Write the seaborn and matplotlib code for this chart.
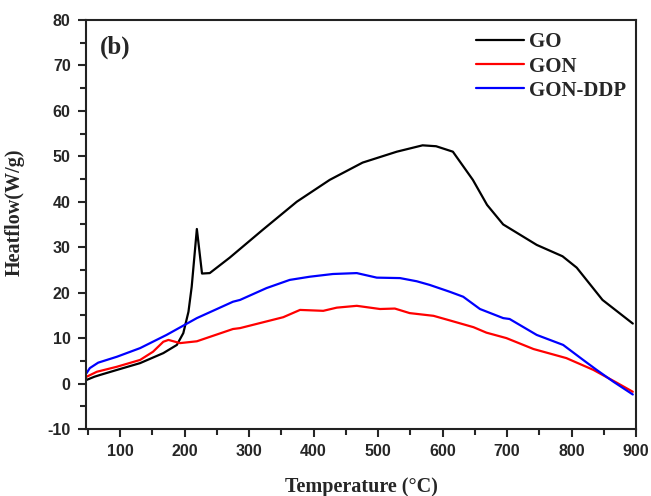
import numpy as np
import pandas as pd
import matplotlib
matplotlib.use("Agg")
import matplotlib.pyplot as plt
import seaborn as sns
from matplotlib.ticker import MultipleLocator

# Data (Temperature °C, Heatflow W/g)
go_temp = [48, 60, 69, 95, 131, 167, 188, 198, 206, 211, 219, 227, 239,
           270, 321, 374, 425, 476, 529, 569, 590, 616, 647, 669, 694,
           746, 786, 808, 848, 895]
go_flow = [0.8, 1.5, 1.9, 3.0, 4.5, 6.7, 8.5, 11.1, 15.8, 21.3, 34.0, 24.2, 24.3,
           27.7, 33.8, 40.0, 44.8, 48.6, 51.0, 52.4, 52.2, 51.0, 44.8, 39.3, 35.0,
           30.5, 28.0, 25.5, 18.4, 13.2]

gon_temp = [48, 64, 95, 131, 151, 167, 175, 193, 219, 275, 286, 353, 379,
            415, 436, 467, 503, 526, 549, 586, 611, 648, 668, 699, 741,
            792, 834, 870, 895]
gon_flow = [1.5, 2.6, 3.7, 5.2, 7.0, 9.2, 9.6, 8.9, 9.3, 12.0, 12.2, 14.6, 16.2,
            16.0, 16.7, 17.1, 16.4, 16.5, 15.5, 14.9, 13.9, 12.4, 11.2, 10.0, 7.6,
            5.6, 3.0, 0.2, -1.8]

ddp_temp = [48, 53, 66, 95, 131, 172, 219, 275, 286, 327, 363, 394, 430,
            467, 498, 534, 560, 580, 611, 632, 658, 694, 704, 746, 787,
            818, 839, 865, 895]
ddp_flow = [2.3, 3.4, 4.6, 5.9, 7.8, 10.7, 14.4, 18.0, 18.4, 21.0, 22.8, 23.5, 24.1,
            24.3, 23.3, 23.2, 22.5, 21.7, 20.2, 19.1, 16.4, 14.4, 14.2, 10.7, 8.5,
            5.2, 3.0, 0.4, -2.4]

labels = ["GO", "GON", "GON-DDP"]
colors = ["black", "red", "blue"]

df = pd.concat([
    pd.DataFrame({"Temperature": go_temp, "Heatflow": go_flow, "Sample": labels[0]}),
    pd.DataFrame({"Temperature": gon_temp, "Heatflow": gon_flow, "Sample": labels[1]}),
    pd.DataFrame({"Temperature": ddp_temp, "Heatflow": ddp_flow, "Sample": labels[2]}),
])

sns.set_style("ticks")
plt.rcParams["font.family"] = ["Liberation Sans", "DejaVu Sans"]
plt.rcParams["axes.unicode_minus"] = False

fig = plt.figure(figsize=(6.51, 4.96), dpi=100)
ax = fig.add_axes([0.132, 0.135, 0.845, 0.825])

sns.lineplot(data=df, x="Temperature", y="Heatflow", hue="Sample",
             palette=dict(zip(labels, colors)), linewidth=1.6,
             sort=False, estimator=None, ax=ax)

ax.set_xlim(47, 900)
ax.set_ylim(-10, 80)
ax.xaxis.set_major_locator(MultipleLocator(100))
ax.xaxis.set_minor_locator(MultipleLocator(50))
ax.yaxis.set_major_locator(MultipleLocator(10))
ax.yaxis.set_minor_locator(MultipleLocator(5))
ax.set_xticks(range(100, 1000, 100))
ax.tick_params(which="major", direction="out", length=6, width=1.5,
               top=False, right=False, labelsize=11.5, pad=5)
ax.tick_params(which="minor", direction="out", length=4, width=1.5,
               top=False, right=False)
for lab in ax.get_xticklabels() + ax.get_yticklabels():
    lab.set_fontweight("bold")
for sp in ax.spines.values():
    sp.set_linewidth(1.5)
    sp.set_color("#222222")

serif = ["Liberation Serif", "DejaVu Serif"]
ax.set_xlabel("Temperature (°C)", family=serif, fontweight="bold", fontsize=14.5)
ax.set_ylabel("Heatflow(W/g)", family=serif, fontweight="bold", fontsize=14.5)
ax.xaxis.set_label_coords(0.5, -0.117)
ax.yaxis.set_label_coords(-0.111, 0.53)

ax.text(0.025, 0.918, "(b)", transform=ax.transAxes, family=serif,
        fontweight="bold", fontsize=18)

leg = ax.legend(title=None, frameon=False, loc="upper right",
                bbox_to_anchor=(1.016, 1.015), handlelength=2.3,
                handletextpad=0.25, labelspacing=0.2,
                prop={"family": serif, "weight": "bold", "size": 15})

fig.savefig("out.png", dpi=100)
plt.close(fig)
